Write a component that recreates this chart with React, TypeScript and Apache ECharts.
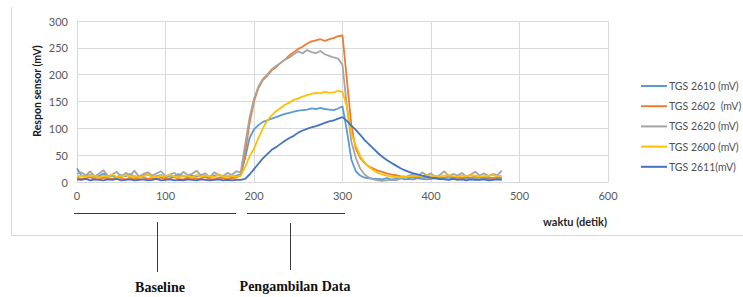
import React, { useEffect, useRef } from "react";
import * as echarts from "echarts";

const times = [
  0, 5, 10, 15, 20, 25, 30, 35, 40, 45, 50, 55, 60, 65, 70, 75, 80, 85, 90, 95,
  100, 105, 110, 115, 120, 125, 130, 135, 140, 145, 150, 155, 160, 165, 170, 175, 180, 185, 190, 195,
  200, 205, 210, 215, 220, 225, 230, 235, 240, 245, 250, 255, 260, 265, 270, 275, 280, 285, 290, 295,
  300, 305, 310, 315, 320, 325, 330, 335, 340, 345, 350, 355, 360, 365, 370, 375, 380, 385, 390, 395,
  400, 405, 410, 415, 420, 425, 430, 435, 440, 445, 450, 455, 460, 465, 470, 475, 480,
];

const tgs2610 = [
  25, 12, 10, 14, 9, 11, 16, 10, 12, 9, 13, 11, 15, 10, 9, 12, 14, 10, 11, 13, 9, 12, 10, 15, 11, 9, 12, 10, 14, 11, 9, 12, 13, 10, 11, 9, 12,
  14, 45, 82, 98, 106, 112, 115, 118, 121, 124, 127, 129, 131, 133, 134, 135, 137, 136, 138, 136, 135, 134, 137, 141,
  95, 42, 20, 12, 8, 7, 6,
  6, 5, 7, 5, 6, 8, 5, 6, 5, 7, 6, 5, 6, 7, 5, 6, 5, 8, 6, 5, 7, 5, 6, 5, 7, 6, 5, 6, 7,
];

const tgs2602 = [
  8, 6, 7, 9, 5, 6, 8, 7, 6, 9, 7, 5, 8, 6, 7, 9, 6, 7, 5, 8, 6, 7, 9, 6, 5, 7, 8, 6, 7, 9, 6, 5, 8, 7, 6, 7, 8,
  12, 55, 110, 150, 175, 190, 198, 208, 214, 222, 228, 236, 242, 248, 252, 258, 262, 264, 266, 263, 266, 268, 272, 273,
  190, 105, 62, 45, 35, 29, 25, 21, 19, 16, 14, 13, 11, 10, 9,
  9, 8, 10, 8, 9, 7, 9, 8, 10, 9, 8, 7, 9, 8, 10, 8, 9, 8, 7, 9, 8,
];

const tgs2620 = [
  15, 18, 12, 20, 10, 16, 22, 11, 14, 19, 9, 17, 13, 21, 10, 15, 18, 12, 16, 20, 11, 14, 17, 10, 19, 13, 15, 21, 12, 16, 9, 18, 14, 11, 17, 13, 20,
  18, 70, 120, 155, 178, 192, 200, 210, 216, 222, 228, 232, 238, 243, 240, 246, 242, 240, 244, 238, 235, 232, 230, 218,
  140, 75, 45, 25, 14, 8, 5, 3, 2, 3, 4, 3, 6, 8, 12,
  14, 10, 18, 12, 16, 9, 13, 20, 11, 15, 12, 17, 10, 14, 19, 12, 16, 11, 15, 13, 21,
];

const tgs2600 = [
  10, 12, 9, 13, 11, 8, 12, 10, 14, 9, 11, 13, 10, 12, 8, 11, 14, 10, 9, 12, 11, 13, 10, 8, 12, 11, 9, 13, 10, 12, 11, 9, 14, 10, 12, 11, 10,
  12, 28, 48, 62, 82, 100, 115, 124, 132, 138, 144, 148, 153, 156, 159, 162, 164, 166, 165, 168, 166, 167, 170, 168,
  140, 90, 68, 48, 36, 28, 22, 17, 14, 12, 10, 9, 9, 10, 10,
  11, 12, 10, 13, 11, 12, 10, 12, 13, 11, 10, 12, 11, 13, 12, 10, 11, 12, 13, 11, 12,
];

const tgs2611 = [
  5, 4, 6, 3, 5, 4, 3, 5, 4, 6, 3, 4, 5, 3, 4, 5, 3, 4, 6, 3, 4, 5, 3, 4, 3, 5, 4, 3, 5, 4, 3, 4, 5, 3, 4, 3, 4,
  4, 6, 14, 24, 34, 44, 52, 60, 65, 71, 77, 82, 86, 92, 96, 99, 102, 104, 107, 110, 113, 115, 118, 121,
  114, 105, 97, 88, 78, 70, 62, 54, 47, 41, 36, 31, 26, 22, 19,
  16, 14, 12, 10, 8, 7, 6,
  5, 4, 6, 4, 5, 3, 5, 4, 4, 5, 3, 4, 5, 4,
];

const seriesNames = ["TGS 2610 (mV)", "TGS 2602 \u00a0(mV)", "TGS 2620 (mV)", "TGS 2600 (mV)", "TGS 2611(mV)"];
const seriesColors = ["#5B9BD5", "#ED7D31", "#A5A5A5", "#FFC000", "#4472C4"];
const seriesValues = [tgs2610, tgs2602, tgs2620, tgs2600, tgs2611];

const yTitle = "Respon sensor (mV)";
const xTitle = "waktu (detik)";
const annot1 = "Baseline";
const annot2 = "Pengambilan Data";

export default function App() {
  const ref = useRef<HTMLDivElement>(null);
  useEffect(() => {
    if (!ref.current) return;
    const chart = echarts.init(ref.current, undefined, { renderer: "svg" });
    const font = "Lato, 'Open Sans', sans-serif";
    const lineStyle = { stroke: "#3a3a3a", lineWidth: 1 };
    chart.setOption({
      animation: false,
      backgroundColor: "#ffffff",
      grid: { left: 77, right: 135, top: 21, bottom: 115, containLabel: false },
      legend: {
        orient: "vertical",
        left: 636,
        top: 74,
        itemWidth: 26,
        itemHeight: 2,
        itemGap: 6.2,
        icon: "rect",
        textStyle: { fontFamily: font, fontSize: 10.5, color: "#505050", lineHeight: 14, padding: [0, 0, 0, -3] },
        data: seriesNames,
      },
      xAxis: {
        type: "value",
        min: 0,
        max: 600,
        interval: 100,
        axisLine: { show: true, lineStyle: { color: "#d9d9d9", width: 1 } },
        axisTick: { show: false },
        axisLabel: { fontFamily: font, fontSize: 11, color: "#595959", margin: 8 },
        splitLine: { show: true, lineStyle: { color: "#d9d9d9", width: 1 } },
      },
      yAxis: {
        type: "value",
        min: 0,
        max: 300,
        interval: 50,
        axisLine: { show: false },
        axisTick: { show: false },
        axisLabel: { fontFamily: font, fontSize: 11, color: "#595959", margin: 9 },
        splitLine: { show: true, lineStyle: { color: "#d9d9d9", width: 1 } },
      },
      series: seriesValues.map((vals, i) => ({
        name: seriesNames[i],
        type: "line",
        showSymbol: false,
        symbol: "none",
        data: vals.map((v, j) => [times[j], v]),
        lineStyle: { color: seriesColors[i], width: 1.8 },
        itemStyle: { color: seriesColors[i] },
      })),
      graphic: [
        { type: "line", shape: { x1: 11.5, y1: 7, x2: 11.5, y2: 235 }, style: { stroke: "#d9d9d9", lineWidth: 1 }, silent: true },
        { type: "line", shape: { x1: 11, y1: 235.5, x2: 743, y2: 235.5 }, style: { stroke: "#d9d9d9", lineWidth: 1 }, silent: true },
        {
          type: "text",
          x: 37,
          y: 91,
          rotation: Math.PI / 2,
          style: { text: yTitle, fontFamily: font, fontSize: 10.5, fontWeight: "bold", fill: "#1a1a1a", align: "center", verticalAlign: "middle" },
        },
        {
          type: "text",
          x: 607,
          y: 221,
          style: { text: xTitle, fontFamily: font, fontSize: 11, fontWeight: "bold", fill: "#262626", align: "right", verticalAlign: "middle" },
        },
        { type: "line", shape: { x1: 74, y1: 213.5, x2: 236, y2: 213.5 }, style: lineStyle, silent: true },
        { type: "line", shape: { x1: 247, y1: 213.5, x2: 345, y2: 213.5 }, style: lineStyle, silent: true },
        { type: "line", shape: { x1: 157.5, y1: 222, x2: 157.5, y2: 272 }, style: lineStyle, silent: true },
        { type: "line", shape: { x1: 290.5, y1: 223, x2: 290.5, y2: 270 }, style: lineStyle, silent: true },
        {
          type: "text",
          x: 160,
          y: 287,
          style: { text: annot1, fontFamily: "'Liberation Serif', serif", fontSize: 14, fontWeight: "bold", fill: "#111111", align: "center", verticalAlign: "middle" },
        },
        {
          type: "text",
          x: 295,
          y: 286,
          style: { text: annot2, fontFamily: "'Liberation Serif', serif", fontSize: 14, fontWeight: "bold", fill: "#111111", align: "center", verticalAlign: "middle" },
        },
      ],
    });
    return () => chart.dispose();
  }, []);
  return <div ref={ref} style={{ position: "fixed", left: 0, top: 0, width: 743, height: 297 }} />;
}
